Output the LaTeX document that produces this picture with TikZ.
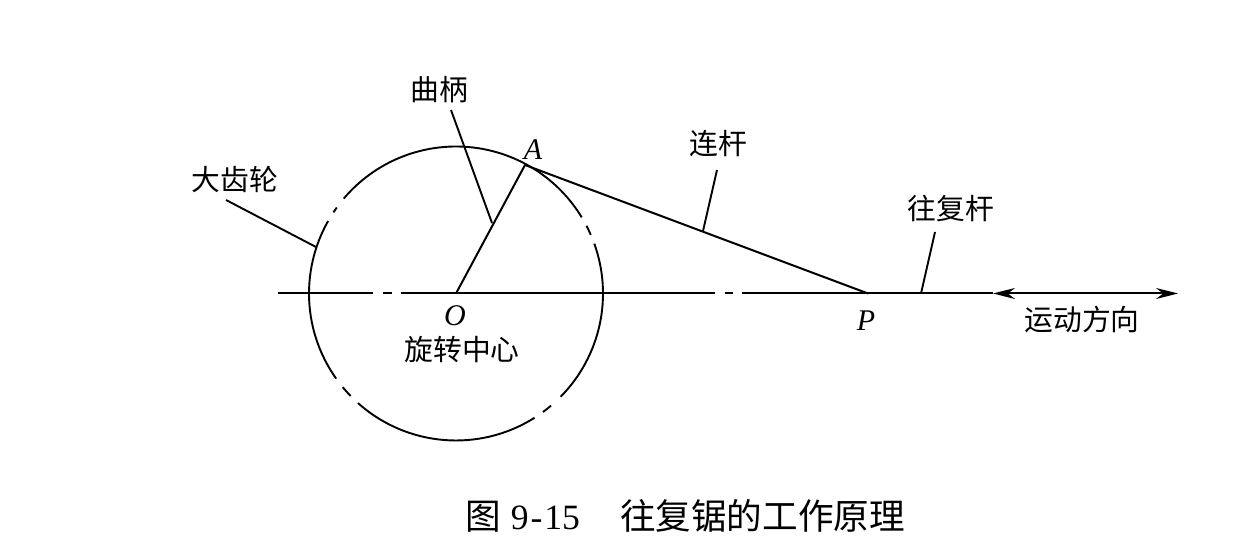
\documentclass[tikz,border=0pt]{standalone}
\usepackage{fontspec}
\setmainfont{Liberation Serif}
\newfontfamily\cjk{Noto Sans CJK SC}
\usetikzlibrary{arrows.meta,positioning}

\begin{document}
\begin{tikzpicture}[x=0.5pt, y=0.5pt, >={Stealth[length=11pt,width=5.5pt]},
    every node/.append style={align=center, inner sep=0pt},
    lbl/.style={font=\cjk\fontsize{14.4pt}{16pt}\selectfont},
    pt/.style={font=\itshape\fontsize{15pt}{16pt}\selectfont},
    captiontext/.style={font=\fontsize{17.8pt}{20pt}\selectfont},
    ln/.style={draw, line width=1pt},
    thin ln/.style={draw, line width=0.95pt}]
   \useasboundingbox (0,0) rectangle (1257,545);
   % points
   \coordinate (O) at (456,251.5);
   \coordinate (A) at (525,380);
   \coordinate (P) at (868,251.5);
   \coordinate (axisL) at (278,251.5);
   \coordinate (axisR) at (1178,251.5);
   \coordinate (backtip) at (993,251.5);
   % labels
   \node [lbl] (crank)  at (439,455) {曲柄};
   \node [lbl] (gear)   at (235,365) {大齿轮};
   \node [lbl] (rod)    at (718,401) {连杆};
   \node [lbl] (slider) at (951,336) {往复杆};
   \node [lbl] (center) at (462,195) {旋转中心};
   \node [lbl] (motion) at (1082,225) {运动方向};
   \node [pt] (Alabel) at (533,395) {A};
   \node [pt] (Olabel) at (455,229) {O};
   \node [pt] (Plabel) at (866,224) {P};
   \node [captiontext] (caption) at (685,29)
      {{\cjk 图}\hspace{5pt}9\kern1pt-\kern1pt 15\hspace{20pt}{\cjk 往复锯的工作原理}};
   % ends of the leaders
   \coordinate (cranktop)   at (451,435);
   \coordinate (crankfoot)  at (492,322);
   \coordinate (geartop)    at (226,345);
   \coordinate (gearfoot)   at (316,298);
   \coordinate (rodtop)     at (717,375);
   \coordinate (rodfoot)    at (703,314);
   \coordinate (slidertop)  at (935,313);
   \coordinate (sliderfoot) at (921,251.5);
   % large gear, chain line
   \foreach \a/\b in {31.2/139.8, 144.2/146.5, 150.5/215.4, 219.6/224.2,
                      228.2/302.3, 306.3/310.3, 315.4/379.8, 23.5/27.4}
      \draw [thin ln] ([shift={(\a:73.5pt)}]O) arc [start angle=\a, end angle=\b, radius=73.5pt];
   % axis
   \draw [ln] (axisL) -- ++(95,0);
   \draw [ln] (383,251.5) -- (392,251.5);
   \draw [ln] (401,251.5) -- (715,251.5);
   \draw [ln] (725,251.5) -- (733,251.5);
   \draw [ln] (742,251.5) -- (P) -- (sliderfoot) -- (backtip);
   \draw [ln, <->] (backtip) -- (axisR);
   % crank and rod
   \draw [ln] (O) -- (A) -- (P);
   % leaders
   \draw [thin ln] (cranktop) -- (crankfoot);
   \draw [thin ln] (geartop) -- (gearfoot);
   \draw [thin ln] (rodtop) -- (rodfoot);
   \draw [thin ln] (slidertop) -- (sliderfoot);
\end{tikzpicture}
\end{document}
